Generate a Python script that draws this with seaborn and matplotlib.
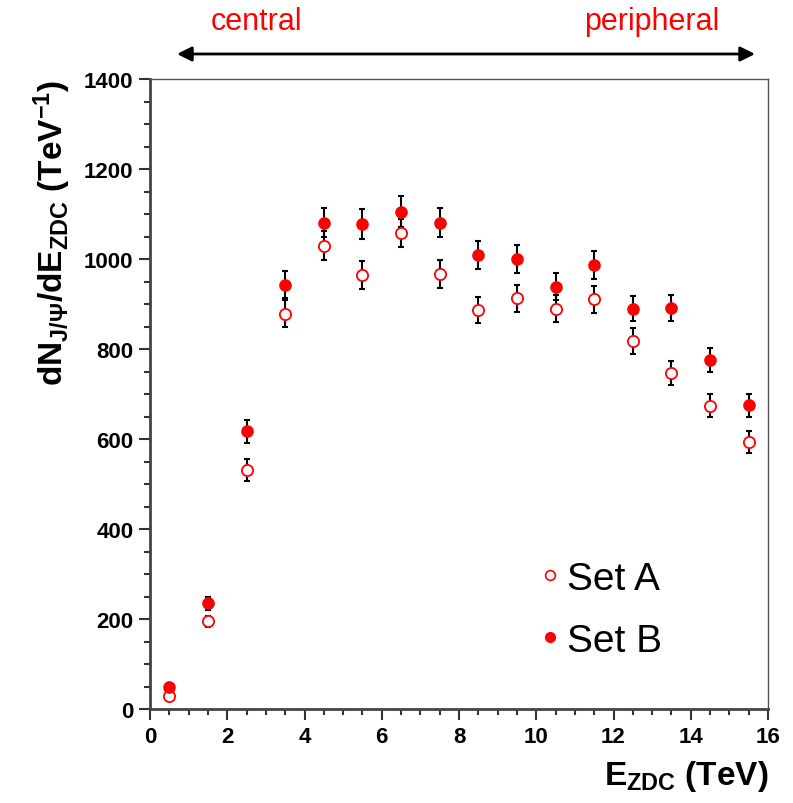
import matplotlib
matplotlib.use("Agg")
import matplotlib.pyplot as plt
import seaborn as sns
import numpy as np
import pandas as pd
from matplotlib.ticker import MultipleLocator
from matplotlib.lines import Line2D

# ---- data ----
e_zdc = [0.5, 1.5, 2.5, 3.5, 4.5, 5.5, 6.5, 7.5, 8.5, 9.5, 10.5, 11.5, 12.5, 13.5, 14.5, 15.5]
set_a = [29, 195, 531, 878, 1030, 964, 1058, 967, 887, 913, 890, 911, 818, 747, 674, 594]
set_a_err = [10, 12, 24, 30, 32, 31, 32, 31, 29, 30, 29, 30, 28, 27, 25, 24]
set_b = [50, 235, 617, 943, 1081, 1078, 1105, 1081, 1009, 1000, 938, 986, 890, 892, 776, 675]
set_b_err = [8, 14, 26, 30, 33, 33, 34, 33, 31, 32, 30, 31, 28, 29, 27, 25]
series_labels = ["Set A", "Set B"]

sns.set_style("ticks")
plt.rcParams["font.family"] = ["Liberation Sans", "DejaVu Sans"]
plt.rcParams["mathtext.fontset"] = "custom"
plt.rcParams["mathtext.rm"] = "Liberation Sans:bold"
plt.rcParams["mathtext.bf"] = "Liberation Sans:bold"
plt.rcParams["mathtext.it"] = "Liberation Sans:bold"
plt.rcParams["mathtext.sf"] = "Liberation Sans:bold"
plt.rcParams["text.color"] = "black"
plt.rcParams["axes.labelcolor"] = "black"
plt.rcParams["xtick.color"] = "black"
plt.rcParams["ytick.color"] = "black"

fig = plt.figure(figsize=(7.93, 8.04), dpi=100)
ax = fig.add_axes([150/793, 1-710/804, 618/793, 630/804])

df_a = pd.DataFrame({"x": e_zdc, "y": set_a, "err": set_a_err})
df_b = pd.DataFrame({"x": e_zdc, "y": set_b, "err": set_b_err})

for df in (df_a, df_b):
    ax.errorbar(df["x"], df["y"], yerr=df["err"], fmt="none", ecolor="black",
                elinewidth=1.5, capsize=2.5, capthick=1.5, zorder=2)

sns.scatterplot(data=df_a, x="x", y="y", ax=ax, marker="o", s=65,
                facecolor="white", edgecolor="red", linewidth=1.3, zorder=3)
sns.scatterplot(data=df_b, x="x", y="y", ax=ax, marker="o", s=65,
                color="red", edgecolor="red", linewidth=1.0, zorder=4)

ax.set_xlim(0, 16)
ax.set_ylim(0, 1400)
ax.xaxis.set_major_locator(MultipleLocator(2))
ax.xaxis.set_minor_locator(MultipleLocator(0.5))
ax.yaxis.set_major_locator(MultipleLocator(200))
ax.yaxis.set_minor_locator(MultipleLocator(50))
ax.tick_params(which="major", direction="out", length=8, width=1.5, color="#333333",
               labelsize=16, pad=4, top=False, right=False, labelcolor="black")
ax.tick_params(which="minor", direction="out", length=4.5, width=1.5, color="#333333",
               top=False, right=False)
for lab in ax.get_xticklabels() + ax.get_yticklabels():
    lab.set_fontweight("bold")

for side in ["left", "bottom"]:
    ax.spines[side].set_linewidth(2)
    ax.spines[side].set_color("#444444")
for side in ["top", "right"]:
    ax.spines[side].set_visible(True)
    ax.spines[side].set_linewidth(1.0)
    ax.spines[side].set_color("#555555")

ax.set_xlabel(r"E$_{ZDC}$ (TeV)", fontsize=24, fontweight="bold", loc="right", labelpad=8)
ax.set_ylabel(r"dN$_{J/\Psi}$/dE$_{ZDC}$ (TeV$^{-1}$)", fontsize=24, fontweight="bold",
              loc="top", labelpad=8)

# legend
handles = [
    Line2D([], [], marker="o", ls="none", markersize=7, markerfacecolor="white",
           markeredgecolor="red", markeredgewidth=1.2),
    Line2D([], [], marker="o", ls="none", markersize=7, markerfacecolor="red",
           markeredgecolor="red"),
]
leg = ax.legend(handles, series_labels, frameon=False, fontsize=28, loc="upper left",
                bbox_to_anchor=((538-150)/618, (710-562)/630), handlelength=0.6,
                handletextpad=0.15, labelspacing=0.66, borderaxespad=0, borderpad=0)
for t in leg.get_texts():
    t.set_color("black")

# centrality arrow
ax.annotate("", xy=(755/793, 1-55/804), xytext=(177/793, 1-55/804),
            xycoords="figure fraction", textcoords="figure fraction",
            arrowprops=dict(arrowstyle="<|-|>", color="black", lw=2,
                            mutation_scale=22, shrinkA=0, shrinkB=0))
fig.text(256/793, 1-22/804, "central", color="red", fontsize=22, ha="center", va="center")
fig.text(652/793, 1-22/804, "peripheral", color="red", fontsize=22, ha="center", va="center")

fig.savefig("out.png", dpi=100)
